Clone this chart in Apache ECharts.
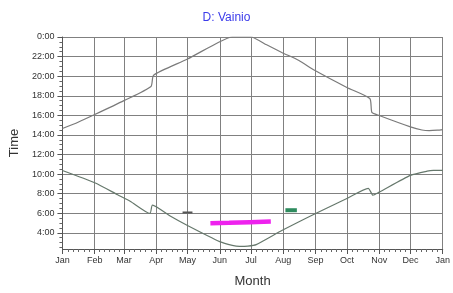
<!DOCTYPE html>
<html><head><meta charset="utf-8">
<script src="https://cdn.jsdelivr.net/npm/echarts@6/dist/echarts.min.js"></script>
<style>html,body{margin:0;padding:0;background:#fff}#c{width:453px;height:293px}</style>
</head><body><div id="c"></div>
<script>
// Day-of-year positions of month starts and their labels
var monthStarts = [0,31,59,90,120,151,181,212,243,273,304,334,365];
var monthLabels = ['Jan','Feb','Mar','Apr','May','Jun','Jul','Aug','Sep','Oct','Nov','Dec','Jan'];
// Time ticks (hours); 24 shown as 0:00
var hourTicks = [4,6,8,10,12,14,16,18,20,22,24];

// [day of year, hour]
var upperCurve = [[0,14.65],[15,15.3],[31,16.08],[59,17.5],[85,18.95],[87.5,20.1],[120,21.75],[150,23.47],[163,24],[181,24],[196,23.2],[211,22.4],[227,21.6],[242,20.6],[273,18.85],[295,17.72],[297,16.3],[304,15.98],[334,14.82],[345,14.5],[352,14.43],[360,14.48],[365,14.55]];
var lowerCurve = [[0,10.37],[31,9.11],[53,7.89],[65,7.23],[84,5.98],[86.4,6.83],[103,5.74],[120,4.75],[151,3.1],[163,2.72],[170,2.62],[178,2.65],[186,2.8],[211,4.26],[243,5.98],[274,7.56],[293.5,8.55],[298,7.85],[304,8.16],[334,9.87],[350,10.3],[356,10.37],[365,10.37]];
var grayMark = [[115.3,6.08],[124.8,6.08]];
var magentaMark = [[142,4.98],[160,5.02],[180,5.08],[200,5.15]];
var greenMark = [[214,6.31],[225,6.31]];

var minorX = [];
for (var i = 0; i < monthStarts.length - 1; i++) {
  var a = monthStarts[i], b = monthStarts[i+1];
  for (var k = 1; k < 6; k++) minorX.push(a + (b - a) * k / 6);
}
var minorY = [];
for (var h = 2; h < 24; h += 0.5) if (h % 2 !== 0) minorY.push(h);

var chart = echarts.init(document.getElementById('c'));
var font = 'Liberation Sans, Arial, sans-serif';
chart.setOption({
  animation: false,
  title: { text: 'D: Vainio', left: 'center', top: 7,
    textStyle: { color: '#3b3bea', fontSize: 12, fontWeight: 'normal', fontFamily: font } },
  grid: { left: 62, right: 8, top: 37, bottom: 37 },
  xAxis: [{
    type: 'value', min: 0, max: 365,
    name: 'Month', nameLocation: 'middle', nameGap: 26,
    nameTextStyle: { fontSize: 13, color: '#333', fontFamily: font },
    axisLine: { lineStyle: { color: '#555' } },
    axisTick: { customValues: monthStarts, length: 5, lineStyle: { color: '#555' } },
    axisLabel: { customValues: monthStarts, margin: 7, fontSize: 9, color: '#333', fontFamily: font,
      formatter: function (v) { var i = monthStarts.indexOf(v); return i >= 0 ? monthLabels[i] : ''; } },
    splitLine: { show: true, lineStyle: { color: '#808080', width: 1 } }
  }, {
    type: 'value', min: 0, max: 365, position: 'bottom',
    axisLine: { show: false },
    axisTick: { customValues: minorX, length: 3, lineStyle: { color: '#666' } },
    axisLabel: { show: false }, splitLine: { show: false }
  }],
  yAxis: [{
    type: 'value', min: 2.35, max: 24,
    name: 'Time', nameLocation: 'middle', nameGap: 34,
    nameTextStyle: { fontSize: 13, color: '#333', fontFamily: font },
    axisLine: { show: true, lineStyle: { color: '#555' } },
    axisTick: { show: true, customValues: hourTicks, length: 5, lineStyle: { color: '#555' } },
    axisLabel: { customValues: hourTicks, margin: 8, fontSize: 9, color: '#333', fontFamily: font,
      formatter: function (v) { return (Math.round(v) % 24) + ':00'; } },
    splitLine: { show: true, lineStyle: { color: '#808080', width: 1 } }
  }, {
    type: 'value', min: 2.35, max: 24, position: 'left',
    axisLine: { show: false },
    axisTick: { show: true, customValues: minorY, length: 3, lineStyle: { color: '#666' } },
    axisLabel: { show: false }, splitLine: { show: false }
  }],
  series: [
    { type: 'line', data: upperCurve, symbol: 'none', smooth: 0.2, lineStyle: { color: '#7a7a7a', width: 1.2 } },
    { type: 'line', data: lowerCurve, symbol: 'none', smooth: 0.2, lineStyle: { color: '#66786c', width: 1.2 } },
    { type: 'line', data: grayMark, symbol: 'none', lineStyle: { color: '#555', width: 2 } },
    { type: 'line', data: magentaMark, symbol: 'none', smooth: true, lineStyle: { color: '#ee22ee', width: 4.5 } },
    { type: 'line', data: greenMark, symbol: 'none', lineStyle: { color: '#2e8b5e', width: 4 } }
  ]
});
</script></body></html>
